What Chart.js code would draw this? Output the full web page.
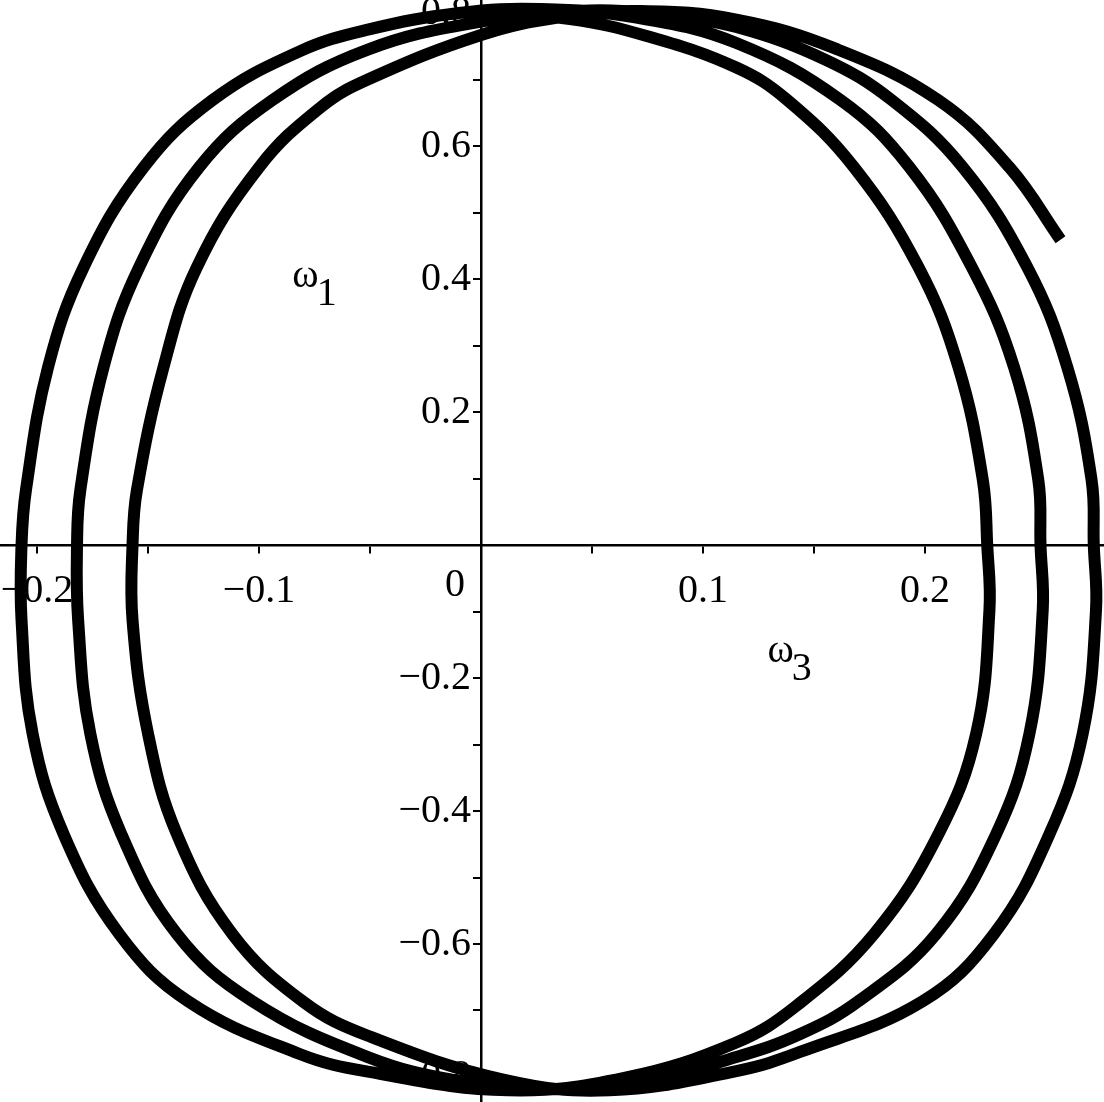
<!DOCTYPE html>
<html>
<head>
<meta charset="utf-8">
<script src="https://cdn.jsdelivr.net/npm/chart.js@4.4.0/dist/chart.umd.min.js"></script>
<style>
  html, body { margin: 0; padding: 0; background: #fff; }
  #wrap { width: 1104px; height: 1102px; }
</style>
</head>
<body>
<div id="wrap"><canvas id="phaseChart"></canvas></div>
<script>
// omega_3 (x) and omega_1 (y), one pair of arrays per turn (clockwise)
const loop1W3 = [0.000, 0.040, 0.075, 0.115, 0.138, 0.168, 0.197, 0.215, 0.226, 0.228, 0.229, 0.223, 0.206, 0.177, 0.142, 0.115, 0.065, 0.012, -0.051, -0.082, -0.132, -0.163, -0.188, -0.202, -0.207, -0.207, -0.205, -0.195, -0.179, -0.152, -0.121, -0.082, -0.051, -0.010];
const loop1W1 = [0.800, 0.791, 0.765, 0.718, 0.669, 0.568, 0.418, 0.268, 0.098, 0.000, -0.098, -0.284, -0.435, -0.585, -0.693, -0.748, -0.801, -0.820, -0.792, -0.765, -0.686, -0.585, -0.435, -0.284, -0.113, 0.000, 0.083, 0.268, 0.418, 0.568, 0.669, 0.742, 0.775, 0.800];

const loop2W3 = [0.027, 0.070, 0.115, 0.162, 0.193, 0.221, 0.240, 0.251, 0.252, 0.253, 0.247, 0.232, 0.205, 0.170, 0.144, 0.115, 0.072, 0.031, -0.010, -0.051, -0.103, -0.137, -0.162, -0.176, -0.1815, -0.182, -0.1805, -0.170, -0.154, -0.127, -0.094, -0.051, 0.000];
const loop2W1 = [0.806, 0.793, 0.755, 0.669, 0.568, 0.418, 0.268, 0.098, 0.000, -0.098, -0.284, -0.435, -0.585, -0.686, -0.735, -0.770, -0.806, -0.818, -0.806, -0.770, -0.686, -0.585, -0.435, -0.284, -0.113, 0.000, 0.083, 0.268, 0.418, 0.568, 0.669, 0.745, 0.787];

const loop3W3 = [0.049, 0.085, 0.115, 0.155, 0.185, 0.217, 0.246, 0.264, 0.275, 0.276, 0.277, 0.271, 0.256, 0.231, 0.199, 0.144, 0.115, 0.058, 0.010, -0.051, -0.080, -0.112, -0.137, -0.150, -0.157, -0.157, -0.155, -0.143, -0.128, -0.100, -0.072, -0.051, 0.000];
const loop3W1 = [0.804, 0.795, 0.779, 0.730, 0.669, 0.568, 0.418, 0.268, 0.098, 0.000, -0.098, -0.284, -0.435, -0.585, -0.686, -0.762, -0.791, -0.820, -0.804, -0.738, -0.687, -0.585, -0.435, -0.284, -0.113, 0.000, 0.083, 0.268, 0.418, 0.568, 0.659, 0.700, 0.767];

const loop4W3 = [0.036, 0.072, 0.115, 0.160, 0.206, 0.238, 0.261];
const loop4W1 = [0.794, 0.803, 0.790, 0.746, 0.669, 0.568, 0.459];

const xTickLabels = [-0.2, -0.1, 0.1, 0.2];
const yTickLabels = [-0.8, -0.6, -0.4, -0.2, 0.2, 0.4, 0.6, 0.8];

const xMin = -0.2167, xMax = 0.2806;
const yMin = -0.8376, yMax = 0.8196;

const allW3 = loop1W3.concat(loop2W3, loop3W3, loop4W3);
const allW1 = loop1W1.concat(loop2W1, loop3W1, loop4W1);
const path = allW3.map((v, i) => ({ x: v, y: allW1[i] }));

function fmt(v) {
    return (v < 0 ? '\u2212' : '') + Math.abs(v).toFixed(1);
}
function isLabel(list, v) {
    return list.some(t => Math.abs(t - v) < 1e-6);
}
// axes sit inside the plot, so they must not shrink the plot area
function noPadding(scale) {
    scale.paddingLeft = 0;
    scale.paddingRight = 0;
    scale.paddingTop = 0;
    scale.paddingBottom = 0;
}

const serif = { family: 'Liberation Serif', size: 40 };

// "0" at the origin and the two axis names (omega with a lowered index)
const axisText = {
    id: 'axisText',
    beforeDatasetsDraw(chart) {
        const { ctx, scales: { x, y } } = chart;
        const x0 = x.getPixelForValue(0);
        const y0 = y.getPixelForValue(0);
        ctx.save();
        ctx.fillStyle = '#000';
        ctx.font = '40px "Liberation Serif"';
        ctx.textAlign = 'center';
        ctx.textBaseline = 'middle';
        ctx.fillText('0', x0 - 26, y0 + 40);

        ctx.textAlign = 'left';
        ctx.textBaseline = 'alphabetic';
        const name = (idx, px, py) => {
            ctx.fillText('\u03c9', px, py);
            const w = ctx.measureText('\u03c9').width;
            ctx.fillText(idx, px + w - 2, py + 18);
        };
        name('1', x.getPixelForValue(-0.085), y.getPixelForValue(0.388));
        name('3', x.getPixelForValue(0.129), y.getPixelForValue(-0.176));
        ctx.restore();
    }
};

const ctx = document.getElementById('phaseChart').getContext('2d');
new Chart(ctx, {
    type: 'scatter',
    data: {
        datasets: [{
            data: path,
            showLine: true,
            borderColor: '#000',
            borderWidth: 12,
            borderJoinStyle: 'round',
            pointRadius: 0,
            tension: 0.4
        }]
    },
    options: {
        responsive: true,
        maintainAspectRatio: false,
        animation: false,
        devicePixelRatio: 1,
        layout: { padding: 0, autoPadding: false },
        plugins: { legend: { display: false }, tooltip: { enabled: false } },
        scales: {
            x: {
                type: 'linear',
                min: xMin,
                max: xMax,
                position: { y: 0 },
                afterFit: noPadding,
                border: { color: '#000', width: 2.5 },
                grid: { drawOnChartArea: false, drawTicks: true, tickLength: 7, lineWidth: 2, color: '#000' },
                ticks: {
                    stepSize: 0.05,
                    autoSkip: false,
                    includeBounds: false,
                    maxRotation: 0,
                    padding: 15,
                    color: '#000',
                    font: serif,
                    callback: v => isLabel(xTickLabels, v) ? fmt(v) : ''
                }
            },
            y: {
                type: 'linear',
                min: yMin,
                max: yMax,
                position: { x: 0 },
                afterFit: noPadding,
                border: { color: '#000', width: 2.5 },
                grid: { drawOnChartArea: false, drawTicks: true, tickLength: 7, lineWidth: 2, color: '#000' },
                ticks: {
                    stepSize: 0.1,
                    autoSkip: false,
                    includeBounds: false,
                    color: '#000',
                    font: serif,
                    callback: v => isLabel(yTickLabels, v) ? fmt(v) + ' ' : ''
                }
            }
        }
    },
    plugins: [axisText]
});
</script>
</body>
</html>
